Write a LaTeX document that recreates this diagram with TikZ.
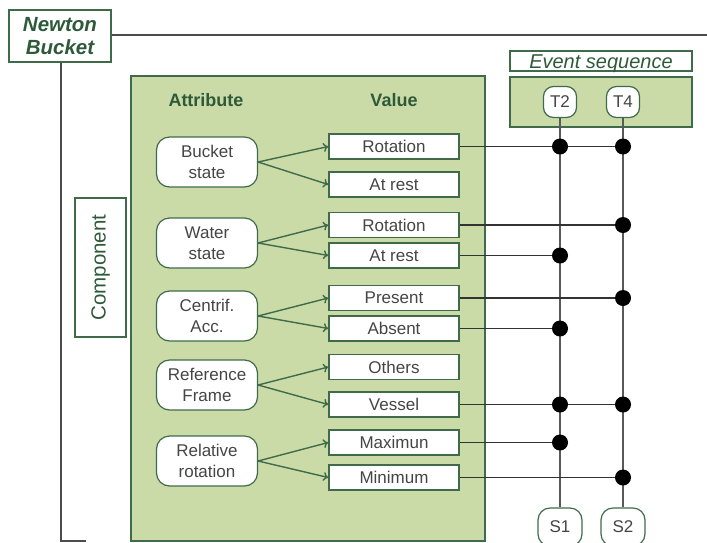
\documentclass[tikz,border=0pt]{standalone}
\usepackage{fontspec}
\setmainfont{Liberation Sans}
\usetikzlibrary{arrows.meta}
\definecolor{gfill}{HTML}{CADBA8}
\definecolor{gdraw}{HTML}{3F6B4A}
\definecolor{gtext}{HTML}{2F5A3A}
\definecolor{vtext}{HTML}{454545}
\tikzset{
  valbox/.style={draw=gdraw, line width=1.5pt, fill=white, minimum width=130pt, minimum height=25pt, inner sep=0pt, font=\fontsize{17}{17}\selectfont, text=vtext},
  attbox/.style={draw=gdraw, line width=1.2pt, fill=white, rounded corners=13pt, minimum width=101pt, minimum height=50pt, inner sep=0pt, align=center, font=\fontsize{17}{21}\selectfont, text=vtext},
  tbox/.style={draw=gdraw, line width=1.2pt, fill=white, rounded corners=10pt, minimum width=33pt, minimum height=31pt, inner sep=0pt, font=\fontsize{17}{17}\selectfont, text=vtext},
  sbox/.style={draw=gdraw, line width=1.2pt, fill=white, rounded corners=12pt, minimum width=44pt, minimum height=38pt, inner sep=0pt, font=\fontsize{17}{17}\selectfont, text=vtext},
  arr/.style={draw=gdraw, line width=1.4pt, -{To[length=5pt,width=9pt]}},
  wire/.style={draw=black!80, line width=1.3pt},
  vwire/.style={draw=black!65, line width=1.5pt},
  dot/.style={circle, fill=black, inner sep=0pt, minimum size=16pt},
  head/.style={font=\bfseries\fontsize{18}{18}\selectfont, text=gtext},
}
\begin{document}
\begin{tikzpicture}[x=1pt,y=-1pt]
\useasboundingbox (0,0) rectangle (707,542);
\begin{scope}
\clip (0,0) rectangle (707,542);
% top frame
\node[draw=gdraw, line width=1.4pt, fill=white, minimum width=102pt, minimum height=52pt, inner sep=0pt, align=center, font=\bfseries\itshape\fontsize{20.5}{23}\selectfont, text=gtext] (nb) at (60,36) {Newton\\Bucket};
\coordinate (topr) at (707,35);
\coordinate (bl) at (61,541);
\coordinate (blr) at (86,541);
\draw[draw=black!70, line width=1.4pt] (nb.east |- topr) -- (topr);
\draw[draw=black!70, line width=1.4pt] (nb.south -| bl) -- (bl) -- (blr);

% green main box
\node[draw=gdraw, line width=1.4pt, fill=gfill, minimum width=354pt, minimum height=465pt, inner sep=0pt] (main) at (308,308.5) {};
\node[head] (hatt) at (206,100) {Attribute};
\node[head] (hval) at (394,100) {Value};

% component
\node[draw=gdraw, line width=1.4pt, fill=white, minimum width=139pt, minimum height=51pt, inner sep=0pt, rotate=90, font=\fontsize{20.5}{20.5}\selectfont, text=gtext] (comp) at (100.5,267.5) {Component};

% event sequence
\node[draw=gdraw, line width=1.4pt, fill=white, minimum width=182pt, minimum height=20pt, inner sep=0pt, text height=14pt, text depth=0pt, font=\itshape\fontsize{20}{20}\selectfont, text=gtext] (evl) at (601,61) {Event sequence};
\node[draw=gdraw, line width=1.4pt, fill=gfill, minimum width=182pt, minimum height=50pt, inner sep=0pt] (evb) at (601,102) {};

% attribute nodes
\node[attbox] (a1) at (207,162) {Bucket\\state};
\node[attbox] (a2) at (207,243) {Water\\state};
\node[attbox] (a3) at (207,316) {Centrif.\\Acc.};
\node[attbox] (a4) at (207,385) {Reference\\Frame};
\node[attbox] (a5) at (207,461) {Relative\\rotation};

% value nodes
\node[valbox] (v1) at (394,146.5) {Rotation};
\node[valbox] (v2) at (394,184.5) {At rest};
\node[valbox] (v3) at (394,225) {Rotation};
\node[valbox] (v4) at (394,255.5) {At rest};
\node[valbox] (v5) at (394,298) {Present};
\node[valbox] (v6) at (394,328.5) {Absent};
\node[valbox] (v7) at (394,367) {Others};
\node[valbox] (v8) at (394,404.5) {Vessel};
\node[valbox] (v9) at (394,442.5) {Maximun};
\node[valbox] (v10) at (394,477.5) {Minimum};

\draw[arr] (a1.east) -- (v1.west);
\draw[arr] (a1.east) -- (v2.west);
\draw[arr] (a2.east) -- (v3.west);
\draw[arr] (a2.east) -- (v4.west);
\draw[arr] (a3.east) -- (v5.west);
\draw[arr] (a3.east) -- (v6.west);
\draw[arr] (a4.east) -- (v7.west);
\draw[arr] (a4.east) -- (v8.west);
\draw[arr] (a5.east) -- (v9.west);
\draw[arr] (a5.east) -- (v10.west);

% event nodes
\node[sbox] (s1) at (560,527) {S1};
\node[sbox] (s2) at (623,527) {S2};
\draw[vwire] (560,102) -- (s1.north);
\draw[vwire] (623,102) -- (s2.north);
\node[tbox] (t2) at (560,102) {T2};
\node[tbox] (t4) at (623,102) {T4};

% dots
\node[dot] (d1a) at (560,146.5) {};
\node[dot] (d1b) at (623,146.5) {};
\node[dot] (d3b) at (623,225) {};
\node[dot] (d4a) at (560,255.5) {};
\node[dot] (d5b) at (623,298) {};
\node[dot] (d6a) at (560,328.5) {};
\node[dot] (d8a) at (560,404.5) {};
\node[dot] (d8b) at (623,404.5) {};
\node[dot] (d9a) at (560,442.5) {};
\node[dot] (d10b) at (623,477.5) {};

\draw[wire] (v1.east) -- (d1a) -- (d1b);
\draw[wire] (v3.east) -- (d3b);
\draw[wire] (v4.east) -- (d4a);
\draw[wire] (v5.east) -- (d5b);
\draw[wire] (v6.east) -- (d6a);
\draw[wire] (v8.east) -- (d8a) -- (d8b);
\draw[wire] (v9.east) -- (d9a);
\draw[wire] (v10.east) -- (d10b);
\end{scope}
\end{tikzpicture}
\end{document}
